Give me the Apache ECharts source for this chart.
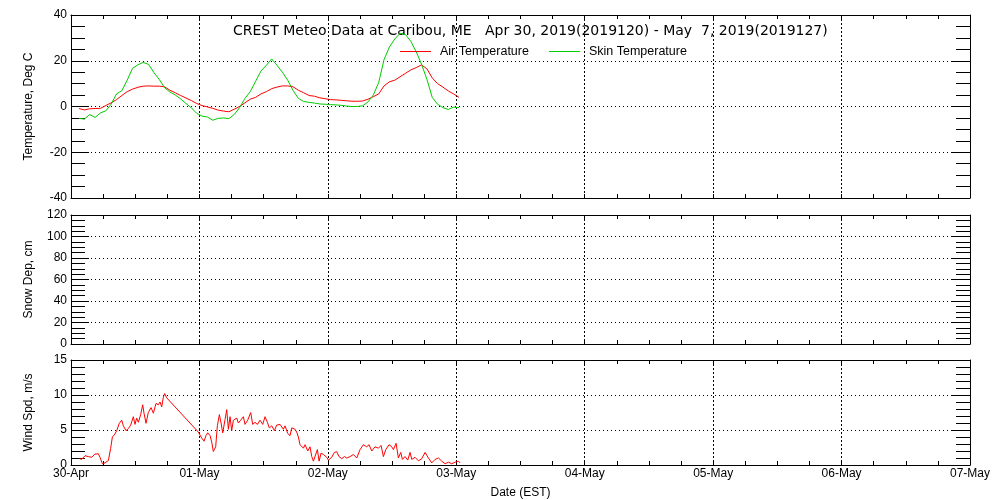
<!DOCTYPE html>
<html>
<head>
<meta charset="utf-8">
<script src="https://cdn.jsdelivr.net/npm/echarts@6/dist/echarts.min.js"></script>
<style>
html,body{margin:0;padding:0;background:#fff;}
#chart{width:1000px;height:500px;}
</style>
</head>
<body>
<div id="chart"></div>
<script>
// ---- Data (hours since 30-Apr 00:00 EST) ----
const dayLabels = ['30-Apr','01-May','02-May','03-May','04-May','05-May','06-May','07-May'];
const tempStartHour = 1.5;   // first temperature sample
const tempStepHour = 1;      // hourly samples
const airTemp = [
  -0.9,-1.5,-1.0,-0.9,-0.8,0.4,1.6,3.0,4.8,6.5,7.6,8.4,8.9,9.0,8.9,8.9,8.6,7.1,6.0,4.8,
  3.7,2.6,1.3,0.4,-0.2,-0.8,-1.6,-2.0,-2.3,-1.2,0.0,1.6,3.2,4.0,5.5,6.5,7.8,8.5,9.0,9.0,
  8.6,7.1,6.0,4.8,4.5,3.8,3.4,3.0,2.9,2.7,2.5,2.3,2.3,2.4,3.2,4.3,5.5,9.0,10.8,11.5,
  13.0,14.5,16.0,17.0,18.2,16.5,12.5,10.0,8.5,6.8,5.5,4.0
];
const skinTemp = [
  -5.2,-5.5,-3.5,-4.8,-2.8,-1.9,1.0,5.5,6.9,11.5,16.7,18.2,19.3,18.4,14.8,11.8,8.2,6.3,5.0,3.3,
  1.3,-0.6,-3.0,-4.2,-4.6,-6.0,-5.2,-5.0,-5.3,-3.5,-0.5,3.5,6.5,11.0,15.5,18.0,20.8,18.0,15.0,11.5,
  7.0,3.5,2.2,1.8,1.5,1.1,1.0,0.8,0.7,0.5,0.2,0.0,0.0,0.3,2.0,5.0,10.5,20.5,26.0,29.5,
  32.0,31.5,28.5,24.0,18.5,12.0,4.0,1.0,-0.5,-1.3,-0.3,-0.5
];
const windHours = [
  1.56,1.99,2.62,3.24,3.86,4.49,5.11,5.42,5.86,6.36,6.98,7.41,7.73,8.10,8.54,9.03,9.47,9.78,10.28,10.72,
  11.15,11.65,11.96,12.27,12.59,13.02,13.40,13.64,14.02,14.45,14.95,15.39,15.89,16.32,16.64,16.95,17.26,17.51,17.88,
  23.80,24.42,24.86,25.23,25.55,25.98,26.29,26.60,27.04,27.35,27.73,28.04,28.35,28.79,29.10,29.41,29.72,30.03,30.34,
  30.97,31.28,31.71,32.21,32.52,33.02,33.58,33.96,34.39,34.83,35.33,35.83,36.26,36.70,37.07,
  37.51,38.01,38.44,39.07,39.69,40.00,40.50,40.93,41.25,41.87,42.18,42.49,42.80,43.43,43.74,44.24,44.67,44.99,
  45.30,45.61,46.04,46.36,46.73,47.17,47.79,48.10,48.72,49.22,49.66,50.09,50.59,51.09,51.53,52.15,52.77,53.40,
  54.02,54.64,55.27,55.70,56.20,56.82,57.45,57.94,58.38,58.82,59.44,59.94,60.25,60.75,61.18,61.62,61.93,62.43,
  62.93,63.36,63.68,64.30,64.92,65.55,66.17,66.79,67.41,68.04,68.66,69.28,69.91,70.53,71.15,71.78,72.40,72.71
];
const windSpeed = [
  0.92,0.8,1.33,1.2,1.1,1.56,1.6,1.1,0.18,0.3,0.64,2.38,4.0,4.3,4.9,5.96,6.4,5.6,4.9,5.2,
  5.7,6.9,5.8,6.7,6.1,7.2,8.6,7.4,5.96,7.5,8.2,7.4,8.8,8.6,9.0,8.3,9.7,10.2,9.6,
  4.7,3.85,3.4,4.2,4.6,4.2,3.3,1.93,2.6,5.6,7.2,6.0,4.6,6.5,7.9,5.1,6.9,4.9,6.4,
  6.7,6.0,6.4,6.9,5.8,6.4,7.5,5.8,6.1,5.8,6.4,5.8,6.9,6.1,5.3,
  5.6,4.9,5.7,5.8,5.1,5.6,4.5,4.2,5.3,5.1,4.7,4.0,2.9,2.4,2.9,2.0,2.6,1.2,
  0.55,0.78,2.2,0.55,1.7,1.5,1.1,0.7,1.1,1.8,1.9,1.2,0.9,1.2,1.0,1.2,1.5,1.0,
  2.2,2.9,2.6,2.9,2.0,2.6,2.4,2.8,1.2,2.2,2.9,2.6,2.2,3.1,1.0,1.8,0.8,1.2,
  0.7,1.8,0.8,1.1,0.6,0.9,1.8,1.0,0.3,0.8,1.0,0.55,0.18,0.4,0.18,0.4,0.55,0.3
];
const tempTicks = {min:-40, max:40, interval:20};
const snowTicks = {min:0, max:120, interval:20};
const windTicks = {min:0, max:15, interval:5};

// ---- Build ----
const tempPairs = a => a.map((v,i)=>[tempStartHour + i*tempStepHour, v]);
const windPairs = windHours.map((h,i)=>[h, windSpeed[i]]);

const FONT = 'Liberation Sans';
const grids = [
  {left:71, width:899, top:15, height:183},
  {left:71, width:899, top:215, height:129},
  {left:71, width:899, top:360, height:109}
];
const dotted = {type:[1,3], color:'#000', width:1};
const xAxes = [], yAxes = [];
grids.forEach((g,i)=>{
  const isBottom = i===2;
  const base = {
    gridIndex:i, type:'value', min:0, max:168, interval:24,
    axisLine:{show:true, onZero:false, lineStyle:{color:'#000', width:1}},
    axisTick:{show:true, inside:true, length:4, lineStyle:{color:'#000'}},
    minorTick:{show:true, splitNumber:4, length:4, lineStyle:{color:'#000'}}
  };
  xAxes.push(Object.assign({}, base, {
    position:'bottom',
    axisLabel:{show:isBottom, color:'#000', fontFamily:FONT, fontSize:12, margin:3,
      formatter:v=>dayLabels[Math.round(v/24)]},
    splitLine:{show:true, lineStyle:{type:[2,2], color:'#000', width:1}},
    name: isBottom ? 'Date (EST)' : '', nameLocation:'middle', nameGap:22,
    nameTextStyle:{color:'#000', fontFamily:FONT, fontSize:12}
  }));
  xAxes.push(Object.assign({}, base, {
    position:'top', axisLabel:{show:false}, splitLine:{show:false}
  }));
  const t = [tempTicks, snowTicks, windTicks][i];
  const names = ['Temperature, Deg C','Snow Dep, cm','Wind Spd, m/s'];
  const ybase = {
    gridIndex:i, type:'value', min:t.min, max:t.max, interval:t.interval,
    axisLine:{show:true, onZero:false, lineStyle:{color:'#000', width:1}},
    axisTick:{show:true, inside:true, length:18, lineStyle:{color:'#000'}},
    minorTick:{show:true, splitNumber: i===2 ? 5 : 4, length:14, lineStyle:{color:'#000'}}
  };
  yAxes.push(Object.assign({}, ybase, {
    position:'left',
    axisLabel:{show:true, color:'#000', fontFamily:FONT, fontSize:12, margin:4},
    splitLine:{show:true, lineStyle:dotted},
    name:names[i], nameLocation:'middle', nameGap:36,
    nameTextStyle:{color:'#000', fontFamily:FONT, fontSize:12}
  }));
  yAxes.push(Object.assign({}, ybase, {
    position:'right', axisLabel:{show:false}, splitLine:{show:false}
  }));
});

const chart = echarts.init(document.getElementById('chart'), null, {renderer:'canvas'});
chart.setOption({
  backgroundColor:'#fff',
  animation:false,
  grid:grids,
  xAxis:xAxes,
  yAxis:yAxes,
  legend:{
    data:['Air Temperature','Skin Temperature'],
    left:400, top:45, padding:0, itemWidth:31, itemHeight:1, itemGap:20, icon:'rect',
    textStyle:{color:'#000', fontFamily:FONT, fontSize:12.5, padding:[0,0,0,4]}
  },
  graphic:[{
    type:'text', left:233, top:24,
    style:{text:'CREST Meteo Data at Caribou, ME   Apr 30, 2019(2019120) - May  7, 2019(2019127)',
      fill:'#000', font:'14px "DejaVu Sans"'}
  }],
  series:[
    {name:'Air Temperature', type:'line', xAxisIndex:0, yAxisIndex:0, data:tempPairs(airTemp),
      showSymbol:false, symbol:'none', lineStyle:{color:'#ff0000', width:1}, itemStyle:{color:'#ff0000'}},
    {name:'Skin Temperature', type:'line', xAxisIndex:0, yAxisIndex:0, data:tempPairs(skinTemp),
      showSymbol:false, symbol:'none', lineStyle:{color:'#00cc00', width:1}, itemStyle:{color:'#00cc00'}},
    {name:'Wind Speed', type:'line', xAxisIndex:4, yAxisIndex:4, data:windPairs,
      showSymbol:false, symbol:'none', lineStyle:{color:'#ff0000', width:1}, itemStyle:{color:'#ff0000'}}
  ]
});
</script>
</body>
</html>
